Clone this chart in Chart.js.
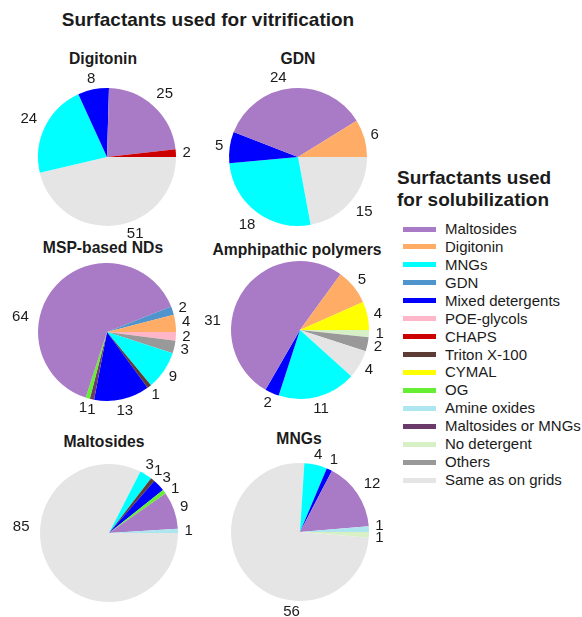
<!DOCTYPE html>
<html>
<head>
<meta charset="utf-8">
<script src="https://cdn.jsdelivr.net/npm/chart.js@4.4.1/dist/chart.umd.min.js"></script>
<style>
  html, body { margin: 0; padding: 0; background: #ffffff; }
  #wrap { position: relative; width: 582px; height: 617px; overflow: hidden; background: #ffffff;
          font-family: "Liberation Sans", Arial, sans-serif; color: #1b1b1b; }
  canvas { position: absolute; }
  .t { position: absolute; transform: translate(-50%, -50%); white-space: nowrap; font-weight: bold; }
  .leg-title { position: absolute; left: 397px; font-weight: bold; font-size: 19px; line-height: 21px; white-space: nowrap; }
  .leg-row { position: absolute; left: 403px; height: 18px; white-space: nowrap; }
  .leg-sw { position: absolute; left: 0; top: 6.5px; width: 33px; height: 5px; }
  .leg-tx { position: absolute; left: 42px; top: 0; font-size: 15px; line-height: 18px; }
</style>
</head>
<body>
<div id="wrap">
  <div class="t" style="left:208px; top:20px; font-size:19px;">Surfactants used for vitrification</div>
  <div class="t" style="left:103px; top:59px; font-size:15.7px;">Digitonin</div>
  <div class="t" style="left:298px; top:59px; font-size:15.7px;">GDN</div>
  <div class="t" style="left:103px; top:248px; font-size:15.7px;">MSP-based NDs</div>
  <div class="t" style="left:297px; top:250px; font-size:15.7px;">Amphipathic polymers</div>
  <div class="t" style="left:104px; top:442px; font-size:15.7px;">Maltosides</div>
  <div class="t" style="left:299px; top:439px; font-size:15.7px;">MNGs</div>
  <div class="leg-title" style="top:167px;">Surfactants used</div>
  <div class="leg-title" style="top:189px;">for solubilization</div>
  <div id="legend"></div>
</div>
<script>
// Legend categories (surfactants used for solubilization)
const legendCats = ['Maltosides', 'Digitonin', 'MNGs', 'GDN', 'Mixed detergents', 'POE-glycols',
  'CHAPS', 'Triton X-100', 'CYMAL', 'OG', 'Amine oxides', 'Maltosides or MNGs',
  'No detergent', 'Others', 'Same as on grids'];

// Each pie: categories and counts, listed counter-clockwise from 3 o'clock
const digitoninCats = ['CHAPS', 'Maltosides', 'Mixed detergents', 'MNGs', 'Same as on grids'];
const digitoninVals = [2, 25, 8, 24, 51];

const gdnCats = ['Digitonin', 'Maltosides', 'Mixed detergents', 'MNGs', 'Same as on grids'];
const gdnVals = [6, 24, 5, 18, 15];

const mspCats = ['Digitonin', 'GDN', 'Maltosides', 'OG', 'Maltosides or MNGs', 'Mixed detergents',
  'Triton X-100', 'MNGs', 'Others', 'POE-glycols'];
const mspVals = [4, 2, 64, 1, 1, 13, 1, 9, 3, 2];

const amphCats = ['CYMAL', 'Digitonin', 'Maltosides', 'Mixed detergents', 'MNGs', 'Same as on grids',
  'Others', 'No detergent'];
const amphVals = [4, 5, 31, 2, 11, 4, 2, 1];

const maltCats = ['Amine oxides', 'Maltosides', 'OG', 'Mixed detergents', 'Triton X-100', 'MNGs',
  'Same as on grids'];
const maltVals = [1, 9, 1, 3, 1, 3, 85];

const mngCats = ['Amine oxides', 'Maltosides', 'Mixed detergents', 'MNGs', 'Same as on grids',
  'No detergent'];
const mngVals = [1, 12, 1, 4, 56, 1];

// Styling
const colors = {
  'Maltosides': '#a97ac6',
  'Digitonin': '#ffac66',
  'MNGs': '#00ffff',
  'GDN': '#4f94cd',
  'Mixed detergents': '#0000ff',
  'POE-glycols': '#ffb6c8',
  'CHAPS': '#cd0000',
  'Triton X-100': '#5e3c36',
  'CYMAL': '#ffff00',
  'OG': '#66ee33',
  'Amine oxides': '#aee6ef',
  'Maltosides or MNGs': '#6a3b6a',
  'No detergent': '#d8f0c6',
  'Others': '#999999',
  'Same as on grids': '#e5e5e5'
};

// Legend
const legendEl = document.getElementById('legend');
legendCats.forEach((c, i) => {
  const row = document.createElement('div');
  row.className = 'leg-row';
  row.style.top = (229 + i * 17.93 - 9) + 'px';
  row.innerHTML = '<div class="leg-sw" style="background:' + colors[c] + '"></div>' +
                  '<div class="leg-tx">' + c + '</div>';
  legendEl.appendChild(row);
});

// Value labels around each pie, pushed apart where they would collide
const pieLabels = {
  id: 'pieLabels',
  afterDatasetsDraw(chart, args, opts) {
    const ctx = chart.ctx;
    const meta = chart.getDatasetMeta(0);
    const vals = chart.data.datasets[0].data;
    const cats = chart.data.labels;
    const TAU = Math.PI * 2;
    ctx.save();
    ctx.font = opts.font;
    const items = meta.data.map((arc, i) => {
      const p = arc.getProps(['x', 'y', 'startAngle', 'endAngle', 'outerRadius'], true);
      let th = (p.startAngle + p.endAngle) / 2;
      const ov = opts.angles ? opts.angles[cats[i]] : undefined;
      if (ov !== undefined) th = -ov * Math.PI / 180;
      th = ((th % TAU) + TAU) % TAU;
      const text = String(vals[i]);
      return { x: p.x, y: p.y, r: p.outerRadius, th, text, w: ctx.measureText(text).width };
    });
    const pos = it => {
      const d = it.r * opts.radius + Math.max(0, it.w - opts.digit) * Math.abs(Math.cos(it.th));
      return [it.x + d * Math.cos(it.th), it.y + d * Math.sin(it.th)];
    };
    const s = items.slice().sort((a, b) => a.th - b.th);
    for (let k = 0; k < 400 && s.length > 1; k++) {
      let moved = false;
      for (let i = 0; i < s.length; i++) {
        const a = s[i], b = s[(i + 1) % s.length];
        const [ax, ay] = pos(a), [bx, by] = pos(b);
        if (Math.abs(ax - bx) < (a.w + b.w) / 2 && Math.abs(ay - by) < opts.height) {
          a.th -= 0.003; b.th += 0.003; moved = true;
        }
      }
      if (!moved) break;
    }
    ctx.fillStyle = opts.color;
    ctx.textAlign = 'center';
    ctx.textBaseline = 'middle';
    items.forEach(it => {
      const [lx, ly] = pos(it);
      ctx.fillText(it.text, lx, ly);
    });
    ctx.restore();
  }
};

const CW = 240, CH = 230, R = 69;
function makePie(cx, cy, cats, vals, angles) {
  const cv = document.createElement('canvas');
  cv.width = CW; cv.height = CH;
  cv.style.left = (cx - CW / 2) + 'px';
  cv.style.top = (cy - CH / 2) + 'px';
  document.getElementById('wrap').appendChild(cv);
  // Chart.js sweeps clockwise, so feed the counter-clockwise lists reversed
  const c = cats.slice().reverse();
  const v = vals.slice().reverse();
  new Chart(cv, {
    type: 'pie',
    data: {
      labels: c,
      datasets: [{ data: v, backgroundColor: c.map(k => colors[k]), borderWidth: 0 }]
    },
    options: {
      responsive: false,
      animation: false,
      rotation: 90,
      layout: { padding: { left: CW / 2 - R, right: CW / 2 - R, top: CH / 2 - R, bottom: CH / 2 - R } },
      plugins: {
        legend: { display: false },
        tooltip: { enabled: false },
        pieLabels: { font: '15px "Liberation Sans", Arial, sans-serif', color: '#1b1b1b',
                     radius: 1.15, digit: 8, height: 11, angles: angles || {} }
      }
    },
    plugins: [pieLabels]
  });
}

makePie(107, 157, digitoninCats, digitoninVals, { 'Same as on grids': 290 });
makePie(298, 157, gdnCats, gdnVals, { 'Maltosides': 104 });
makePie(107, 332, mspCats, mspVals, { 'Maltosides': 170 });
makePie(300, 330, amphCats, amphVals, { 'Maltosides': 174 });
makePie(109, 533, maltCats, maltVals, { 'Same as on grids': 176 });
makePie(300, 532, mngCats, mngVals, { 'Same as on grids': 264 });
</script>
</body>
</html>
